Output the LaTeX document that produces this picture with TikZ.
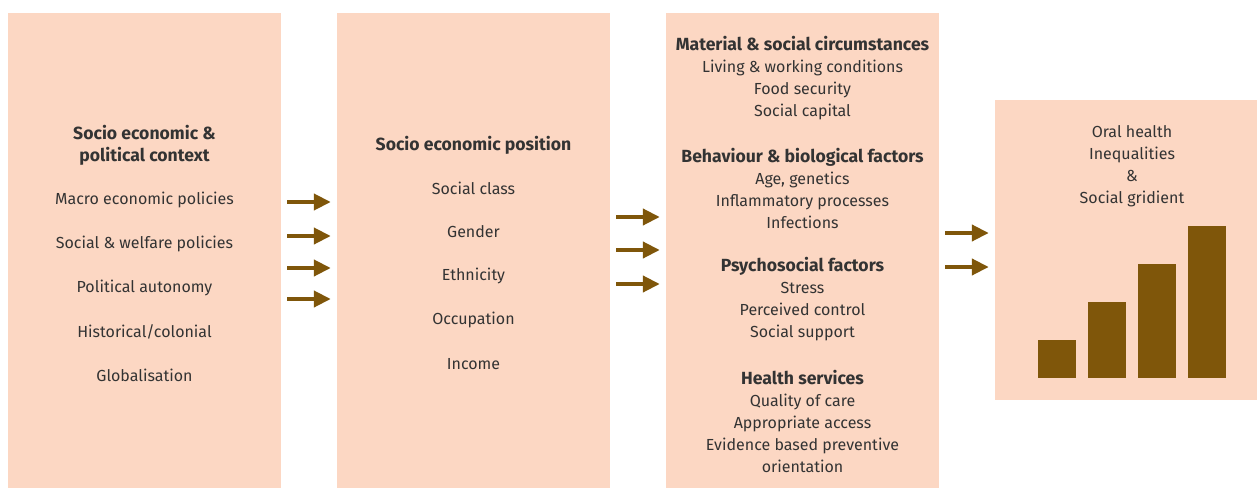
\documentclass[tikz,border=0pt]{standalone}
\usepackage{fontspec}
\setmainfont{Fira Sans}
\usetikzlibrary{arrows.meta}

\definecolor{boxfill}{HTML}{FCD7C3}
\definecolor{arrowbrown}{HTML}{7F560A}
\definecolor{txtgray}{HTML}{333333}

\newcommand{\hdline}[1]{{\fontsize{17.6}{22}\selectfont\bfseries #1}}

\tikzset{
  panel/.style={fill=boxfill, draw=none, inner sep=0pt, minimum width=273pt, minimum height=475pt},
  item/.style={text=txtgray, font=\fontsize{16}{22}\selectfont, align=center, inner sep=0pt},
  flow/.style={draw=arrowbrown, line width=4pt, -{Triangle[length=17pt,width=16pt]}},
  bar/.style={fill=arrowbrown, draw=none}
}

\begin{document}
\begin{tikzpicture}[x=1pt,y=-1pt]
\useasboundingbox (0,0) rectangle (1257,489);
% the four panels
\node[panel] (ctx) at (144.5,250.5) {};
\node[panel] (pos) at (473.5,250.5) {};
\node[panel] (det) at (802.5,250.5) {};
\node[panel, minimum width=262pt, minimum height=300pt] (out) at (1126,250) {};

% socio economic & political context
\node[item] (ctxhead) at (144.5,145) {\hdline{Socio economic \&}\\\hdline{political context}};
\foreach \t [count=\i from 0] in {Macro economic policies, Social \& welfare policies,
    Political autonomy, Historical/colonial, Globalisation}
  \node[item] (ctx\i) at (144.5,199.5+44*\i) {\t};

% socio economic position
\node[item] (poshead) at (473.5,145) {\hdline{Socio economic position}};
\foreach \t [count=\i from 0] in {Social class, Gender, Ethnicity, Occupation, Income}
  \node[item] (pos\i) at (473.5,188+44*\i) {\t};

% intermediary determinants
\node[item] (det1) at (802.5,78) {\hdline{Material \& social circumstances}\\Living \& working conditions\\Food security\\Social capital};
\node[item] (det2) at (802.5,188.5) {\hdline{Behaviour \& biological factors}\\Age, genetics\\Inflammatory processes\\Infections};
\node[item] (det3) at (802.5,299.5) {\hdline{Psychosocial factors}\\Stress\\Perceived control\\Social support};
\node[item] (det4) at (802.5,421) {\hdline{Health services}\\Quality of care\\Appropriate access\\Evidence based preventive\\orientation};

% outcome
\node[item] (outtext) at (1132,166) {Oral health\\Inequalities\\\&\\Social gridient};
\foreach \h [count=\i from 0] in {38,76,114,152}
  \fill[bar] (1038+50*\i,378) rectangle ++(38,-\h);

% arrows between the panels
\foreach \y in {202,236,268,299}
  \draw[flow] ([xshift=6pt]ctx.east |- 0,\y) -- ([xshift=-6pt]pos.west |- 0,\y);
\foreach \y in {217,250,284}
  \draw[flow] ([xshift=6pt]pos.east |- 0,\y) -- ([xshift=-6pt]det.west |- 0,\y);
\foreach \y in {233,267}
  \draw[flow] ([xshift=6pt]det.east |- 0,\y) -- ([xshift=-6pt]out.west |- 0,\y);
\end{tikzpicture}
\end{document}
